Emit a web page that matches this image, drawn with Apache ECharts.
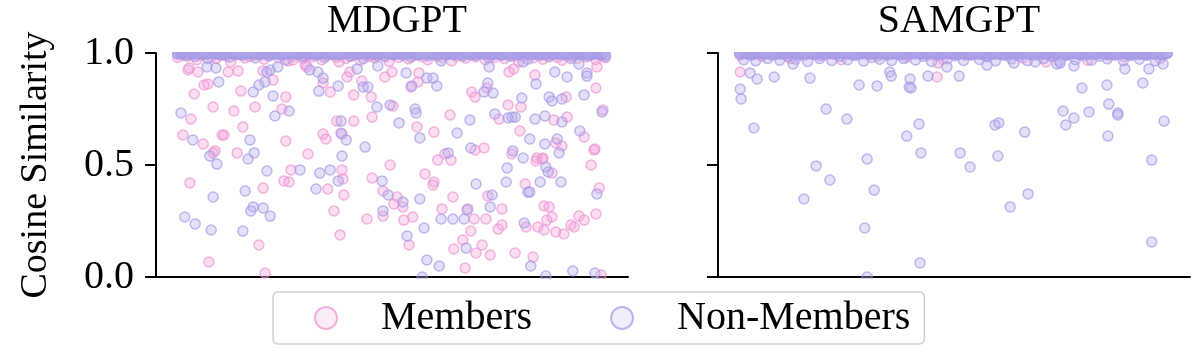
<!DOCTYPE html>
<html>
<head>
<meta charset="utf-8">
<script src="https://cdn.jsdelivr.net/npm/echarts@6/dist/echarts.min.js"></script>
<style>
  html, body { margin: 0; padding: 0; background: #fff; }
  #chart { width: 1200px; height: 360px; }
</style>
</head>
<body>
<div id="chart"></div>
<script>
// panel titles and y ticks
const panels = ['MDGPT', 'SAMGPT']
const yTicks = [0.0, 0.5, 1.0]
const seriesNames = ['Members', 'Non-Members']

// samples sitting at ~1.0 (drawn in sample order between bandStart and bandEnd)
const bandStart = 4.6
const bandEnd = 95.2

const mdgptMembersTop = [0.98,0.99,0.985,0.995,0.97,0.99,1.0,0.982,0.975,0.993,0.988,0.96,0.99,0.996,0.978,0.985,0.99,1.0,0.972,0.987,0.994,0.98,0.99,0.965,0.985,0.998,0.976,0.99,0.983,0.992,0.97,0.988,0.995,0.98,0.99,0.975,0.985,1.0,0.968,0.99,0.984,0.978,0.993,0.987,0.962,0.99,0.98,0.996,0.974,0.988,0.99,0.982,0.97,0.994,0.986,0.979,0.99,0.965,0.985,0.992,0.977,0.99,0.983,0.998,0.97,0.988,0.98,0.993,0.975,0.99,0.986,0.96,0.984,0.995,0.978,0.99,0.972,0.987,0.992,0.98,0.968,0.99,0.985,0.976,0.994,0.982,0.99,0.97,0.988,0.979]
const mdgptNonMembersTop = [0.995,1.0,0.99,0.998,0.985,1.0,0.993,0.975,1.0,0.996,0.99,0.998,0.982,1.0,0.994,0.99,0.997,1.0,0.978,0.992,0.999,0.988,1.0,0.995,0.99,0.97,0.997,1.0,0.993,0.985,1.0,0.996,0.99,0.998,0.98,1.0,0.994,0.991,0.997,1.0,0.986,0.993,0.999,0.975,1.0,0.995,0.99,0.998,0.984,1.0,0.992,0.997,0.99,1.0,0.981,0.996,0.993,1.0,0.988,0.998,0.99,0.965,1.0,0.995,0.992,0.999,0.985,1.0,0.994,0.99,0.997,1.0,0.978,0.993,0.998,0.99,1.0,0.986,0.996,0.992,1.0,0.972,0.995,0.999,0.99,1.0,0.983,0.994,0.997,1.0,0.99,0.976,0.996,1.0,0.992,0.988,0.998,1.0,0.993,0.985]
const mdgptNonMembersOne = [0.998,1.0,0.996,0.999,1.0,0.997,0.995,1.0,0.998,0.996,1.0,0.999,0.997,1.0,0.995,0.998,1.0,0.996,0.999,1.0,0.997,0.998,1.0,0.995,0.999,0.996,1.0,0.998,0.997,1.0,0.999,0.995,1.0,0.996,0.998,1.0,0.997,0.999,1.0,0.996,0.998,0.995,1.0,0.999,0.997,1.0,0.996,0.998,1.0,0.995,0.999,1.0,0.997,0.998,0.996,1.0,0.999,0.995,1.0,0.997,0.998,1.0,0.996,0.999,1.0,0.995,0.998,0.997,1.0,0.996,0.999,1.0,0.998,0.995,1.0,0.997,0.999,0.996,1.0,0.998,0.995,1.0,0.997,0.999,1.0,0.996,0.998,1.0,0.995,0.997,1.0,0.999,0.996,0.998,1.0,0.997,0.995,1.0,0.999,0.996,0.998,1.0,0.997,0.999,1.0,0.995,0.998,0.996,1.0,0.999,
  0.997,0.994,1.0,0.998,0.995,0.999,1.0,0.996,0.993,1.0,0.998,0.997,0.995,1.0,0.999,0.994,0.998,1.0,0.996,0.997,1.0,0.993,0.999,0.998,1.0,0.995,0.996,1.0,0.998,0.994,0.999,1.0,0.997,0.995,1.0,0.998,0.993,0.999,1.0,0.996,0.998,0.994,1.0,0.997,0.999,0.995,1.0,0.998,0.996,0.993,1.0,0.999,0.997,0.995,1.0,0.998,0.994,0.999,1.0,0.996,0.997,1.0,0.995,0.998,0.993,1.0,0.999,0.996,0.998,1.0,0.994,0.997,1.0,0.999,0.995,0.998,1.0,0.996,0.993,0.999,1.0,0.997,0.998,0.995,1.0,0.994,0.999,1.0,0.996,0.998,0.997,1.0,0.993,0.999,1.0,0.995,0.998,0.996,1.0,0.994]
const samgptMembersTop = [0.99,1.0,0.995,0.985,1.0,0.992,0.998,0.975,1.0,0.99,0.996,0.988,1.0,0.994,0.97,0.999,0.99,1.0,0.993,0.985,1.0,0.997,0.99,0.98,1.0,0.995,0.99,0.998,0.972,1.0,0.993,0.99,0.997,1.0,0.986,0.994,0.999,0.99,1.0,0.978,0.996,0.992,1.0,0.988,0.998,0.99,1.0,0.995,0.968,0.993,1.0,0.99,0.997,0.984,1.0,0.994,0.99,0.999,0.976,1.0]
const samgptNonMembersTop = [1.0,0.97,0.995,0.99,0.965,1.0,0.998,0.975,0.99,1.0,0.968,0.995,0.985,1.0,0.972,0.99,0.998,0.962,1.0,0.993,0.975,0.99,1.0,0.967,0.996,0.985,1.0,0.97,0.993,0.99,1.0,0.964,0.998,0.98,1.0,0.972,0.995,0.99,0.966,1.0,0.994,0.975,0.99,1.0,0.969,0.997,0.985,1.0,0.962,0.993,0.99,1.0,0.974,0.996,0.988,1.0,0.967,0.994,0.99,1.0,0.971,0.998,0.983,1.0,0.965,0.995,0.99,1.0,0.973,0.993,0.987,1.0,0.966,0.997,0.99,1.0,0.975,0.994,0.985,1.0,0.963,0.996,0.99,1.0,0.97,0.993,0.99,1.0,0.968,0.998,0.986,1.0,0.974,0.995,0.99,1.0,0.966,0.994,0.989,1.0,0.972,0.997,0.99,1.0,0.965,0.996,0.99,1.0]
const samgptNonMembersOne = [0.999,0.996,1.0,0.998,0.995,1.0,0.997,0.999,1.0,0.996,0.998,1.0,0.995,0.999,0.997,1.0,0.998,0.996,1.0,0.999,0.995,1.0,0.997,0.998,1.0,0.996,0.999,1.0,0.995,0.998,0.997,1.0,0.999,0.996,1.0,0.998,0.995,1.0,0.997,0.999,0.996,1.0,0.998,0.995,1.0,0.999,0.997,1.0,0.996,0.998,1.0,0.995,0.999,0.997,1.0,0.998,0.996,1.0,0.999,0.995,1.0,0.997,0.998,1.0,0.996,0.999,1.0,0.995,0.998,0.997,1.0,0.999,0.996,1.0,0.998,0.995,1.0,0.997,0.999,0.996,1.0,0.998,0.995,1.0,0.999,0.997,1.0,0.996,0.998,1.0,0.995,0.999,0.997,1.0,0.998,0.996,1.0,0.999,0.995,1.0,0.997,0.998,1.0,0.996,0.999,1.0,0.995,0.998,0.997,1.0,
  0.996,1.0,0.994,0.998,0.999,0.995,1.0,0.997,0.993,0.999,1.0,0.996,0.998,0.994,1.0,0.997,0.999,0.995,1.0,0.998,0.993,0.996,1.0,0.999,0.997,0.994,1.0,0.998,0.995,0.999,1.0,0.996,0.993,0.998,1.0,0.997,0.999,0.994,1.0,0.996,0.998,0.995,1.0,0.999,0.993,0.997,1.0,0.998,0.996,0.994,1.0,0.999,0.995,0.998,1.0,0.997,0.993,0.999,1.0,0.996,0.998,0.994,1.0,0.997,0.999,0.995,1.0,0.998,0.996,0.993,1.0,0.999,0.997,0.994,1.0,0.998,0.995,0.999,1.0,0.996,0.997,0.993,1.0,0.998,0.999,0.994,1.0,0.996,0.998,0.995,1.0,0.999,0.997,0.993,1.0,0.998,0.996,0.994,1.0,0.999]

// samples spread out below 1.0: [sample position 0-100, cosine similarity]
const mdgptMembers = [[6.8,0.924],[7.0,0.933],[8.9,0.915],[15.3,0.915],[17.4,0.92],[10.2,0.857],[11.0,0.862],[8.1,0.817],[18.0,0.83],[24.8,0.879],[22.7,0.92],[29.0,0.969],[27.5,0.804],[12.1,0.759],[16.5,0.741],[21.0,0.759],[7.4,0.705],[26.7,0.75],[5.7,0.634],[10.0,0.594],[14.0,0.634],[14.4,0.634],[18.4,0.67],[12.5,0.563],[12.1,0.554],[17.2,0.554],[27.5,0.607],[32.2,0.549],[31.6,0.946],[32.0,0.938],[35.4,0.866],[36.9,0.826],[40.5,0.893],[41.1,0.915],[41.9,0.813],[43.6,0.875],[45.6,0.804],[48.5,0.893],[38.3,0.696],[41.9,0.696],[45.8,0.714],[35.4,0.638],[36.0,0.616],[39.4,0.638],[38.8,0.96],[7.2,0.42],[22.7,0.397],[28.6,0.478],[27.1,0.429],[28.2,0.424],[39.4,0.478],[39.6,0.438],[36.4,0.393],[39.8,0.366],[45.8,0.442],[48.1,0.384],[49.6,0.5],[37.7,0.295],[44.7,0.259],[48.1,0.272],[39.0,0.188],[21.8,0.143],[11.2,0.067],[23.1,0.018],
  [50.0,0.915],[55.7,0.911],[55.5,0.871],[54.0,0.848],[50.2,0.763],[55.3,0.67],[58.9,0.647],[62.3,0.723],[70.1,0.844],[66.9,0.826],[67.6,0.804],[74.8,0.915],[75.8,0.929],[80.3,0.902],[93.4,0.938],[93.2,0.844],[74.6,0.768],[77.3,0.759],[72.7,0.705],[84.3,0.701],[87.1,0.714],[86.9,0.804],[77.1,0.652],[90.7,0.625],[84.7,0.598],[86.0,0.585],[93.0,0.571],[94.7,0.746],[61.2,0.549],[59.7,0.522],[62.5,0.522],[67.6,0.567],[69.5,0.576],[75.4,0.549],[80.7,0.531],[82.0,0.531],[57.0,0.46],[58.9,0.424],[58.7,0.411],[51.1,0.357],[50.4,0.326],[52.3,0.313],[62.9,0.357],[52.5,0.254],[54.4,0.268],[60.6,0.304],[66.1,0.304],[67.4,0.259],[69.9,0.259],[53.6,0.143],[63.1,0.125],[65.0,0.165],[66.7,0.205],[67.8,0.107],[69.1,0.143],[70.8,0.098],[65.5,0.04],[70.3,0.362],[73.3,0.304],[80.5,0.518],[81.8,0.527],[83.9,0.464],[78.2,0.415],[82.2,0.317],[83.3,0.313],[73.3,0.232],[72.5,0.214],[78.4,0.223],[80.9,0.223],[82.2,0.21],[82.8,0.254],[83.9,0.268],[84.7,0.201],[86.4,0.192],[87.9,0.232],[88.6,0.223],[89.6,0.272],[90.7,0.254],[92.2,0.5],[92.8,0.567],[93.9,0.397],[93.2,0.281],[76.1,0.107],[79.9,0.089],[94.3,0.009]]
const mdgptNonMembers = [[10.8,0.938],[12.7,0.933],[13.3,0.871],[20.6,0.826],[21.8,0.857],[23.1,0.871],[23.5,0.915],[24.2,0.924],[25.8,0.938],[24.8,0.808],[28.2,0.741],[25.2,0.719],[5.3,0.732],[7.8,0.612],[19.9,0.612],[11.4,0.54],[20.8,0.554],[19.5,0.527],[32.6,0.924],[34.3,0.915],[35.4,0.888],[34.5,0.83],[38.6,0.853],[42.6,0.929],[43.9,0.848],[44.9,0.848],[46.8,0.759],[47.0,0.942],[39.2,0.696],[39.2,0.643],[40.3,0.612],[44.3,0.58],[39.4,0.54],[12.9,0.504],[12.1,0.357],[23.5,0.473],[18.9,0.384],[30.5,0.478],[34.7,0.464],[36.9,0.478],[38.6,0.429],[33.9,0.393],[47.9,0.429],[49.2,0.366],[20.6,0.313],[20.1,0.295],[22.7,0.308],[24.2,0.272],[6.1,0.268],[8.3,0.237],[11.7,0.21],[18.4,0.205],[48.1,0.295],
  [53.0,0.911],[57.4,0.888],[58.7,0.888],[59.5,0.853],[54.2,0.853],[49.6,0.768],[54.9,0.75],[55.1,0.732],[51.5,0.688],[55.9,0.621],[63.8,0.643],[66.5,0.701],[70.6,0.938],[70.3,0.866],[69.5,0.826],[71.4,0.821],[77.8,0.96],[80.5,0.862],[84.5,0.915],[87.1,0.893],[89.6,0.951],[91.3,0.911],[91.3,0.897],[90.7,0.813],[77.5,0.799],[71.8,0.728],[74.6,0.71],[75.4,0.714],[76.1,0.714],[80.3,0.705],[82.4,0.719],[86.0,0.692],[83.3,0.804],[83.9,0.786],[86.0,0.795],[79.2,0.616],[82.4,0.594],[85.0,0.616],[89.8,0.652],[94.5,0.737],[61.9,0.554],[66.7,0.576],[75.6,0.563],[77.8,0.531],[85.4,0.554],[67.8,0.415],[52.3,0.335],[55.9,0.348],[60.4,0.259],[62.9,0.259],[65.3,0.259],[65.9,0.299],[56.8,0.219],[53.2,0.183],[65.7,0.129],[57.4,0.076],[60.0,0.049],[56.4,0.0],[71.2,0.366],[70.8,0.313],[74.4,0.487],[74.2,0.424],[82.6,0.491],[83.1,0.469],[81.4,0.424],[85.8,0.424],[78.8,0.379],[79.2,0.379],[78.0,0.241],[93.4,0.371],[79.4,0.049],[82.6,0.004],[88.3,0.027],[93.0,0.018]]
const samgptMembers = [[4.7,0.915],[46.4,0.893],[46.6,0.955],[69.5,0.96]]
const samgptNonMembers = [[6.8,0.911],[8.3,0.884],[11.9,0.893],[19.5,0.888],[4.7,0.839],[4.9,0.795],[15.9,0.951],[29.9,0.857],[33.7,0.853],[36.4,0.915],[36.7,0.897],[40.7,0.884],[40.5,0.848],[40.9,0.844],[44.5,0.897],[48.5,0.938],[22.9,0.75],[27.3,0.705],[7.6,0.665],[42.6,0.683],[40.0,0.629],[43.0,0.554],[31.6,0.527],[51.1,0.897],[57.0,0.946],[62.7,0.955],[67.2,0.96],[71.8,0.951],[72.5,0.955],[75.4,0.942],[86.2,0.929],[91.3,0.929],[94.3,0.951],[77.1,0.844],[82.4,0.857],[90.0,0.866],[73.1,0.741],[82.8,0.772],[78.6,0.737],[75.4,0.71],[73.7,0.679],[84.7,0.732],[84.7,0.723],[58.7,0.679],[59.5,0.688],[65.0,0.647],[82.6,0.629],[94.5,0.696],[51.3,0.554],[59.3,0.54],[91.9,0.522],[20.8,0.496],[53.4,0.491],[23.7,0.433],[18.2,0.348],[33.1,0.388],[65.7,0.371],[61.9,0.313],[31.1,0.219],[91.9,0.156],[42.8,0.063],[31.6,0.0]]

const FONT = 'Liberation Serif'
const pink = { color: 'rgba(240,160,215,0.45)', borderColor: 'rgba(238,150,210,0.85)', borderWidth: 1.5 }
const purple = { color: 'rgba(180,170,236,0.45)', borderColor: 'rgba(166,154,230,0.85)', borderWidth: 1.5 }

const topRow = (vals) => vals.map((v, i) => [bandStart + i * (bandEnd - bandStart) / (vals.length - 1), v])

const gridLefts = [156, 718]

const chart = echarts.init(document.getElementById('chart'))

const makeSeries = (name, idx, data, style) => ({
  name,
  type: 'scatter',
  xAxisIndex: idx,
  yAxisIndex: idx,
  symbol: 'circle',
  symbolSize: 10,
  itemStyle: style,
  emphasis: { disabled: true },
  data
})

const option = {
  animation: false,
  title: panels.map((p, i) => ({
    text: p,
    left: gridLefts[i] + 236,
    top: -4,
    textAlign: 'center',
    textStyle: { fontFamily: FONT, fontSize: 40, fontWeight: 'normal', color: '#000' }
  })),
  grid: gridLefts.map(l => ({ left: l, top: 53, width: 472, height: 224 })),
  xAxis: [0, 1].map(i => ({
    type: 'value',
    gridIndex: i,
    min: 0,
    max: 100,
    axisLine: { lineStyle: { color: '#000', width: 2 } },
    axisTick: { show: false },
    axisLabel: { show: false },
    splitLine: { show: false }
  })),
  yAxis: [0, 1].map(i => ({
    type: 'value',
    gridIndex: i,
    min: yTicks[0],
    max: yTicks[yTicks.length - 1],
    interval: 0.5,
    name: i === 0 ? 'Cosine Similarity' : '',
    nameLocation: 'middle',
    nameGap: 101,
    nameTextStyle: { fontFamily: FONT, fontSize: 38, color: '#000' },
    axisLine: { show: true, lineStyle: { color: '#000', width: 2 } },
    axisTick: { show: true, length: 11, lineStyle: { color: '#000', width: 2 } },
    axisLabel: {
      show: i === 0,
      margin: 22,
      fontFamily: FONT,
      fontSize: 40,
      color: '#000',
      formatter: v => v.toFixed(1)
    },
    splitLine: { show: false }
  })),
  legend: {
    left: 273,
    top: 292,
    icon: 'circle',
    itemWidth: 22,
    itemHeight: 22,
    itemGap: 78,
    padding: [6, 14, 6, 41],
    borderColor: '#d0d0d0',
    borderWidth: 1.5,
    borderRadius: 5,
    textStyle: { fontFamily: FONT, fontSize: 40, color: '#000', padding: [0, 0, 0, 39] },
    data: [
      { name: seriesNames[0], itemStyle: { color: 'rgba(240,160,215,0.25)', borderColor: 'rgba(238,150,210,0.9)', borderWidth: 2 } },
      { name: seriesNames[1], itemStyle: { color: 'rgba(180,170,236,0.25)', borderColor: 'rgba(166,154,230,0.9)', borderWidth: 2 } }
    ]
  },
  // white strips that clip markers to the axes box, as matplotlib does
  graphic: [
    { type: 'rect', z: 10, silent: true, shape: { x: 150, y: 38, width: 1050, height: 14 }, style: { fill: '#fff' } },
    { type: 'rect', z: 10, silent: true, shape: { x: 150, y: 279, width: 1050, height: 11 }, style: { fill: '#fff' } }
  ],
  series: [
    makeSeries(seriesNames[0], 0, topRow(mdgptMembersTop).concat(mdgptMembers), pink),
    makeSeries(seriesNames[1], 0, topRow(mdgptNonMembersTop).concat(topRow(mdgptNonMembersOne), mdgptNonMembers), purple),
    makeSeries(seriesNames[0], 1, topRow(samgptMembersTop).concat(samgptMembers), pink),
    makeSeries(seriesNames[1], 1, topRow(samgptNonMembersTop).concat(topRow(samgptNonMembersOne), samgptNonMembers), purple)
  ]
}

chart.setOption(option)
</script>
</body>
</html>
